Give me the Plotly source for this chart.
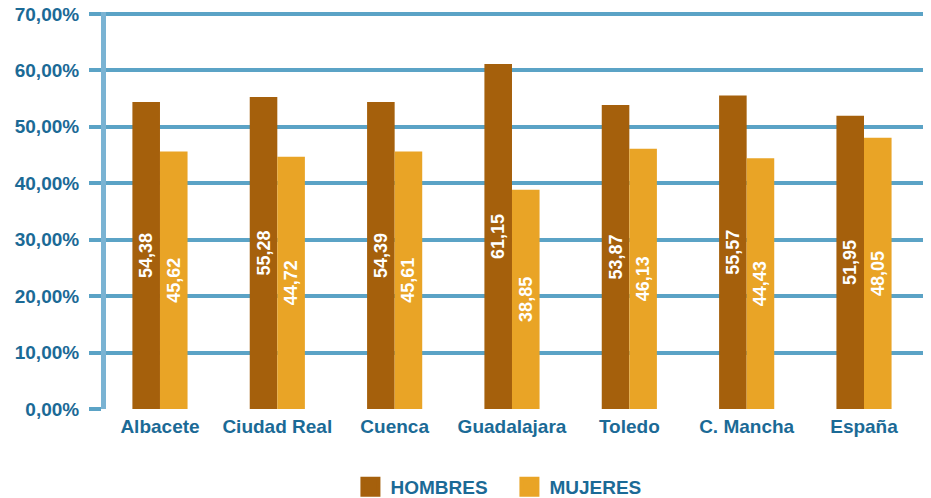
import plotly.graph_objects as go

categories = ["Albacete", "Ciudad Real", "Cuenca", "Guadalajara", "Toledo", "C. Mancha", "España"]
hombres = [54.38, 55.28, 54.39, 61.15, 53.87, 55.57, 51.95]
mujeres = [45.62, 44.72, 45.61, 38.85, 46.13, 44.43, 48.05]
series_names = ["HOMBRES", "MUJERES"]
y_ticks = [0, 10, 20, 30, 40, 50, 60, 70]
y_ticktext = [f"{v:.2f}".replace(".", ",") + "%" for v in y_ticks]

FONT = "Liberation Sans, Arial, sans-serif"
C_H = "#A5600C"
C_M = "#E9A426"
TXT = "#1B6A96"
GRID = "#5BA3C6"
AXIS = "#7AB3D3"

fig = go.Figure()
for name, vals, col in [(series_names[0], hombres, C_H), (series_names[1], mujeres, C_M)]:
    fig.add_trace(go.Bar(
        x=categories, y=vals, name=name, marker=dict(color=col, line=dict(width=0)),
        texttemplate="%{y:.2f}", textposition="inside", insidetextanchor="middle",
        textangle=-90, constraintext="none",
        textfont=dict(family=FONT, size=18, color="white", weight="bold"),
        showlegend=False, hoverinfo="skip",
    ))
# legend entries
for name, col in [(series_names[0], C_H), (series_names[1], C_M)]:
    fig.add_trace(go.Scatter(
        x=[None], y=[None], mode="markers", name=name,
        marker=dict(symbol="square", size=16, color=col, line=dict(color=col, width=4)),
        showlegend=True,
    ))

fig.update_layout(
    width=923, height=490,
    margin=dict(l=98, r=0, t=4, b=89, autoexpand=False),
    paper_bgcolor="white", plot_bgcolor="white",
    separators=",.",
    barmode="group", bargap=0.53, bargroupgap=0,
    font=dict(family=FONT, color=TXT, size=19, weight="bold"),
    legend=dict(orientation="h", xref="container", yref="container",
                x=0.371, xanchor="left", y=0.0224, yanchor="middle",
                entrywidth=114, entrywidthmode="pixels",
                font=dict(family=FONT, size=19, color=TXT, weight="bold"),
                itemsizing="trace", traceorder="normal"),
    xaxis=dict(
        type="category", range=[-0.460, 6.571], showgrid=False, showline=False,
        zeroline=False, ticks="", automargin=False, ticklabelstandoff=4,
        tickfont=dict(family=FONT, size=19, color=TXT, weight="bold"),
    ),
    yaxis=dict(
        range=[0, 70.35], tickvals=y_ticks, ticktext=y_ticktext,
        showgrid=True, gridcolor=GRID, gridwidth=4, zeroline=False,
        showline=True, linecolor=AXIS, linewidth=5, automargin=False,
        ticks="outside", ticklen=12, tickwidth=4, tickcolor=GRID,
        ticklabelstandoff=6, ticklabeloverflow="allow",
        tickfont=dict(family=FONT, size=19, color=TXT, weight="bold"),
    ),
)

fig.write_html("out.html")
